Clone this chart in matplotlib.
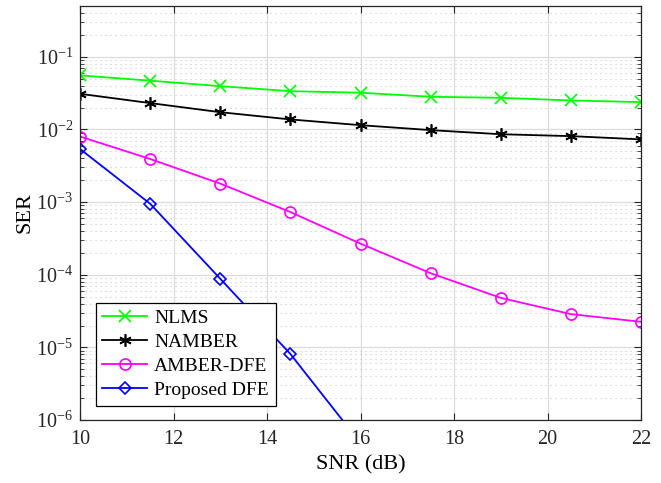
import matplotlib
matplotlib.use("Agg")
import matplotlib.pyplot as plt
import numpy as np

plt.rcParams['font.family'] = ['Liberation Serif', 'DejaVu Serif']
plt.rcParams['mathtext.fontset'] = 'custom'
plt.rcParams['mathtext.rm'] = 'Liberation Serif'
plt.rcParams['mathtext.it'] = 'Liberation Serif:italic'

# data
snr = [10, 11.5, 13, 14.5, 16, 17.5, 19, 20.5, 22]
nlms = [0.0556, 0.047, 0.0395, 0.0337, 0.0321, 0.0282, 0.0273, 0.0251, 0.0238]
namber = [0.031, 0.0231, 0.0173, 0.01375, 0.01146, 0.0098, 0.0086, 0.0081, 0.0073]
amber_dfe = [0.008, 0.00393, 0.0018, 7.3e-4, 2.68e-4, 1.05e-4, 4.8e-5, 2.87e-5, 2.25e-5]
snr_prop = [10, 11.5, 13, 14.5, 16]
proposed = [5.4e-3, 9.5e-4, 8.8e-5, 8.1e-6, 4.8e-7]

fig = plt.figure(figsize=(6.61, 4.83), dpi=100)
ax = fig.add_axes([0.121, 0.1304, 0.849, 0.857])

lw = 1.3
ax.plot(snr, nlms, color=(0, 1, 0), marker='x', ms=8, mew=1.2, lw=lw, label='NLMS')
ax.plot(snr, namber, color='black', marker=(6, 2, 0), ms=9, mew=1.2, lw=lw, label='NAMBER')
ax.plot(snr, amber_dfe, color=(1, 0, 1), marker='o', ms=8, mfc='none', mew=1.2, lw=lw, label='AMBER-DFE')
ax.plot(snr_prop, proposed, color=(0, 0, 1), marker='D', ms=6.5, mfc='none', mew=1.2, lw=lw,
        label='Proposed DFE')

ax.set_yscale('log')
ax.set_xlim(10, 22)
ax.set_ylim(1e-6, 0.5)
ax.set_xticks(np.arange(10, 23, 2))

ax.grid(True, which='major', color='#dcdcdc', lw=0.9, ls='-')
ax.grid(True, which='minor', axis='y', color='#c8c8c8', lw=0.8, ls=(0, (1, 3.5)))
ax.set_axisbelow(True)

ax.tick_params(which='both', direction='in', top=True, right=True, labelsize=14.5, colors='#262626')
ax.tick_params(which='major', length=5)
ax.tick_params(which='minor', length=3)
ax.tick_params(axis='x', pad=7)
ax.tick_params(axis='y', pad=5)
for s in ax.spines.values():
    s.set_color('#262626')
    s.set_linewidth(0.9)

ax.set_xlabel('SNR (dB)', fontsize=16, labelpad=5)
ax.set_ylabel('SER', fontsize=16, labelpad=1)

leg = ax.legend(loc='lower left', bbox_to_anchor=(0.028, 0.035), fontsize=14, fancybox=False,
                framealpha=1, edgecolor='black', borderpad=0.35, labelspacing=0.32,
                handlelength=2.3, handletextpad=0.35, borderaxespad=0.0)
leg.get_frame().set_linewidth(0.9)

fig.savefig('out.png', dpi=100)
